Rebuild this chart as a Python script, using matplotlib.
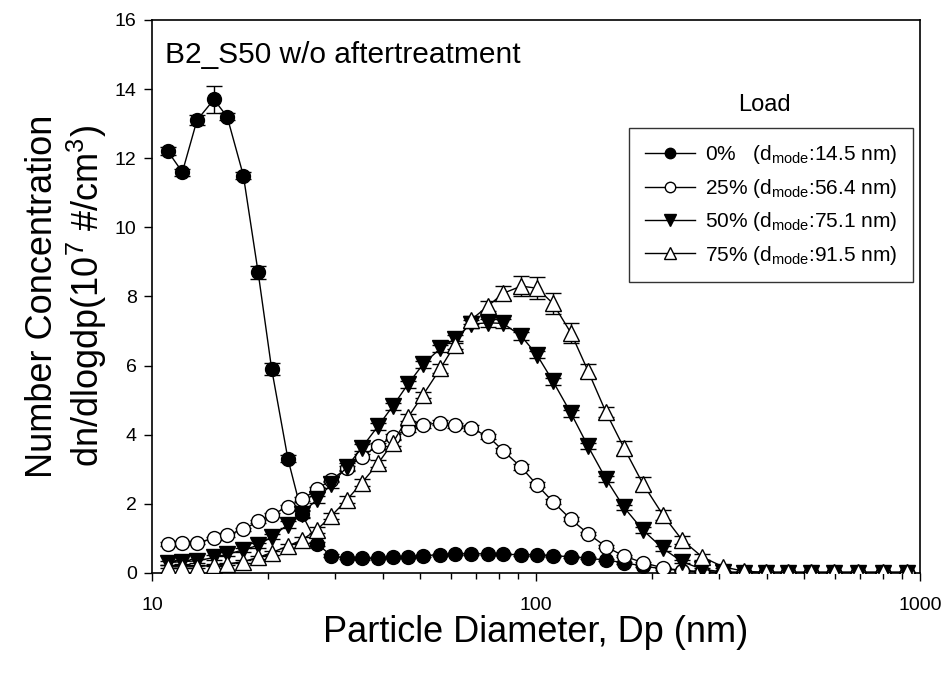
import matplotlib
matplotlib.use("Agg")
import matplotlib.pyplot as plt
import numpy as np

plt.rcParams['font.family'] = ['Liberation Sans', 'DejaVu Sans']
plt.rcParams['mathtext.fontset'] = 'custom'
plt.rcParams['mathtext.rm'] = 'Liberation Sans'
plt.rcParams['mathtext.it'] = 'Liberation Sans:italic'
plt.rcParams['mathtext.bf'] = 'Liberation Sans:bold'

# Particle diameter (nm)
dp = [11.0, 12.0, 13.1, 14.5, 15.7, 17.3, 18.9, 20.5, 22.6, 24.6, 26.9, 29.3,
      32.2, 35.2, 38.8, 42.4, 46.4, 50.8, 56.4, 61.5, 67.7, 75.1, 82.1, 91.5,
      100.6, 110.7, 123.4, 136.6, 152.2, 169.5, 189.9, 214.1, 240.0, 270.6,
      306.9, 348.1, 397.2, 453.3, 520.2, 597.0, 689.5, 801.1, 925.0]

load_0 = [12.2, 11.6, 13.1, 13.7, 13.2, 11.5, 8.7, 5.9, 3.3, 1.7, 0.85, 0.5,
          0.43, 0.42, 0.43, 0.45, 0.47, 0.5, 0.53, 0.55, 0.56, 0.55, 0.54, 0.53,
          0.52, 0.5, 0.47, 0.43, 0.37, 0.3, 0.2, 0.12, 0.07, 0.04, 0.02, 0.02,
          0.02, 0.02, 0.02, 0.02, 0.02, 0.02, 0.02]
err_0 = [0.12, 0.1, 0.15, 0.4, 0.1, 0.1, 0.18, 0.18, 0.1, 0.1, 0.06, 0.04,
         0.03, 0.03, 0.03, 0.03, 0.03, 0.03, 0.03, 0.03, 0.03, 0.03, 0.03, 0.03,
         0.03, 0.03, 0.03, 0.03, 0.03, 0.03, 0.02, 0.02, 0.02, 0.02, 0.01, 0.01,
         0.01, 0.01, 0.01, 0.01, 0.01, 0.01, 0.01]

load_25 = [0.84, 0.88, 0.88, 1.0, 1.1, 1.26, 1.49, 1.68, 1.92, 2.13, 2.42, 2.7,
           3.03, 3.37, 3.68, 3.94, 4.16, 4.28, 4.35, 4.27, 4.19, 3.95, 3.54, 3.06,
           2.55, 2.06, 1.55, 1.14, 0.76, 0.49, 0.3, 0.15, 0.07, 0.03, 0.01, 0.01,
           0.01, 0.01, 0.01, 0.01, 0.01, 0.01, 0.01]
err_25 = [0.05, 0.05, 0.05, 0.05, 0.05, 0.05, 0.05, 0.05, 0.06, 0.06, 0.07, 0.07,
          0.08, 0.08, 0.08, 0.08, 0.08, 0.08, 0.08, 0.08, 0.08, 0.08, 0.08, 0.08,
          0.07, 0.07, 0.06, 0.05, 0.05, 0.04, 0.03, 0.02, 0.02, 0.01, 0.01, 0.01,
          0.01, 0.01, 0.01, 0.01, 0.01, 0.01, 0.01]

load_50 = [0.30, 0.33, 0.35, 0.45, 0.54, 0.67, 0.8, 1.05, 1.4, 1.72, 2.13, 2.57,
           3.07, 3.63, 4.25, 4.83, 5.46, 6.04, 6.5, 6.78, 7.2, 7.24, 7.22, 6.86,
           6.31, 5.55, 4.62, 3.67, 2.72, 1.9, 1.24, 0.71, 0.33, 0.11, 0.03, 0.01,
           0.01, 0.01, 0.01, 0.01, 0.01, 0.01, 0.01]
err_50 = [0.06, 0.06, 0.06, 0.06, 0.06, 0.06, 0.07, 0.08, 0.1, 0.1, 0.1, 0.1,
          0.1, 0.1, 0.1, 0.1, 0.1, 0.1, 0.1, 0.12, 0.12, 0.12, 0.12, 0.12,
          0.1, 0.1, 0.1, 0.08, 0.08, 0.08, 0.08, 0.06, 0.05, 0.03, 0.02, 0.01,
          0.01, 0.01, 0.01, 0.01, 0.01, 0.01, 0.01]

load_75 = [0.18, 0.18, 0.18, 0.23, 0.26, 0.33, 0.45, 0.59, 0.78, 0.96, 1.25, 1.65,
           2.12, 2.61, 3.17, 3.77, 4.5, 5.15, 5.92, 6.6, 7.32, 7.73, 8.09, 8.3,
           8.24, 7.8, 6.94, 5.85, 4.65, 3.62, 2.58, 1.68, 0.96, 0.47, 0.18, 0.05,
           0.02, 0.02, 0.02, 0.02, 0.02, 0.02, 0.02]
err_75 = [0.04, 0.04, 0.04, 0.04, 0.04, 0.05, 0.05, 0.06, 0.07, 0.08, 0.08, 0.1,
          0.1, 0.1, 0.1, 0.1, 0.1, 0.1, 0.12, 0.12, 0.12, 0.15, 0.2, 0.3,
          0.32, 0.3, 0.28, 0.2, 0.15, 0.2, 0.2, 0.15, 0.12, 0.08, 0.05, 0.02,
          0.01, 0.01, 0.01, 0.01, 0.01, 0.01, 0.01]

labels = [r'0%   (d$_{\mathrm{mode}}$:14.5 nm)',
          r'25% (d$_{\mathrm{mode}}$:56.4 nm)',
          r'50% (d$_{\mathrm{mode}}$:75.1 nm)',
          r'75% (d$_{\mathrm{mode}}$:91.5 nm)']

fig = plt.figure(figsize=(9.45, 6.73), dpi=100)
ax = fig.add_axes([0.1608, 0.1486, 0.8127, 0.8217])

series = [
    (load_0, err_0, 'o', 'black', 10),
    (load_25, err_25, 'o', 'white', 10),
    (load_50, err_50, 'v', 'black', 11),
    (load_75, err_75, '^', 'white', 11),
]
handles = []
for (vals, err, mk, fc, ms), lab in zip(series, labels):
    ax.errorbar(dp, vals, yerr=err, fmt='none', ecolor='black', elinewidth=1.0,
                capsize=5.5, capthick=1.0, zorder=2)
    h, = ax.plot(dp, vals, color='black', linewidth=1.0, marker=mk, markersize=ms,
                 markerfacecolor=fc, markeredgecolor='black', markeredgewidth=1.0,
                 label=lab, zorder=3)
    handles.append(h)

ax.set_xscale('log')
ax.set_xlim(10, 1000)
ax.set_ylim(0, 16)
ax.set_yticks(np.arange(0, 17, 2))
ax.set_xticks([10, 100, 1000])
ax.set_xticklabels(['10', '100', '1000'])
ax.tick_params(axis='both', which='major', direction='out', length=6, width=1,
               labelsize=14, top=False, right=False)
ax.tick_params(axis='x', which='major', pad=11)
ax.tick_params(axis='y', which='major', pad=5)
ax.tick_params(axis='x', which='minor', direction='out', length=4, width=1,
               top=False)
ax.tick_params(axis='y', which='minor', left=False)
for s in ax.spines.values():
    s.set_linewidth(1.2)

ax.set_xlabel('Particle Diameter, Dp (nm)', fontsize=26, labelpad=1)
ax.set_ylabel('Number Concentration\ndn/dlogdp(10$^{7}$ #/cm$^{3}$)', fontsize=26,
              labelpad=4, linespacing=1.15)

ax.text(0.017, 0.922, 'B2_S50 w/o aftertreatment', transform=ax.transAxes,
        fontsize=21.5, ha='left', va='baseline')

leg = ax.legend(handles=handles, loc='upper right', bbox_to_anchor=(0.991, 0.805),
                fontsize=15, frameon=True, fancybox=False, edgecolor='black',
                handlelength=2.4, handletextpad=0.5, borderpad=0.75,
                labelspacing=0.5, markerscale=0.75, borderaxespad=0)
leg.get_frame().set_linewidth(1.0)
ax.text(0.797, 0.846, 'Load', transform=ax.transAxes, fontsize=17,
        ha='center', va='center')

fig.savefig('out.png', dpi=100)
